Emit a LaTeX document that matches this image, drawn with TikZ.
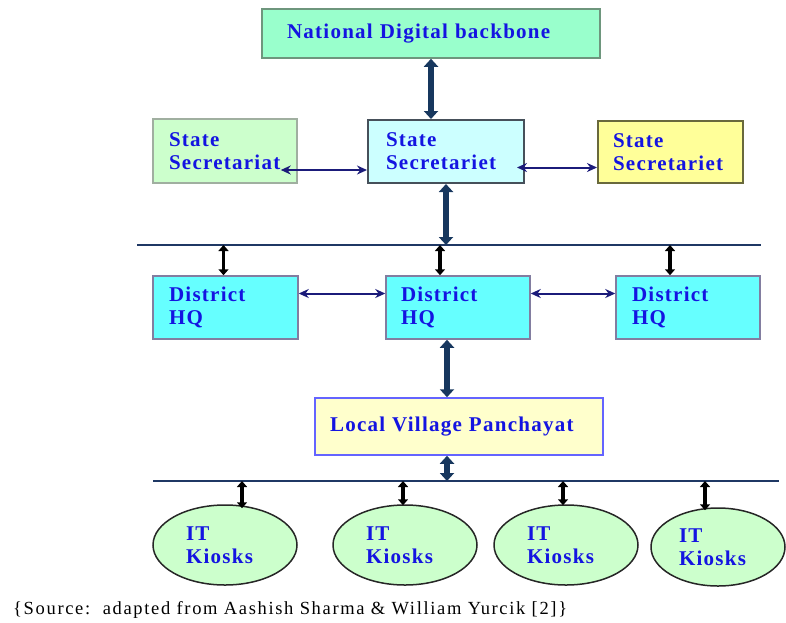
\documentclass[tikz,border=0pt]{standalone}
\usepackage{fontspec}
\setmainfont{Liberation Serif}
\newfontfamily\lbl[LetterSpace=6]{Liberation Serif}
\newfontfamily\srcfont[LetterSpace=9]{Liberation Serif}
\usetikzlibrary{arrows.meta,shapes.geometric}
\definecolor{txtblue}{RGB}{20,20,225}
\definecolor{navy}{HTML}{17375E}
\definecolor{navyarr}{HTML}{1B1B7A}
\definecolor{busline}{HTML}{1F3864}
\definecolor{natfill}{RGB}{153,255,204}
\definecolor{natdraw}{RGB}{110,150,125}
\definecolor{grnfill}{RGB}{204,255,204}
\definecolor{grndraw}{RGB}{160,175,160}
\definecolor{cyanlt}{RGB}{204,255,255}
\definecolor{cyandraw}{RGB}{70,80,90}
\definecolor{yelfill}{RGB}{255,255,153}
\definecolor{yeldraw}{RGB}{105,105,60}
\definecolor{dhfill}{RGB}{102,255,255}
\definecolor{dhdraw}{RGB}{130,125,160}
\definecolor{lvfill}{RGB}{255,255,204}
\definecolor{lvdraw}{RGB}{100,100,255}
\tikzset{
  bx/.style={draw, rectangle, inner ysep=0pt, align=left,
    font=\lbl\bfseries\fontsize{21}{23}\selectfont, text=txtblue},
  kiosk/.style={draw=black!85, line width=1.5pt, fill=grnfill, ellipse, inner sep=0pt,
    minimum width=144pt, minimum height=80pt, text width=78pt, align=left,
    font=\lbl\bfseries\fontsize{21}{23}\selectfont, text=txtblue},
  tarr/.style={draw=navy, line width=6pt, {Triangle[length=8pt,width=14pt]}-{Triangle[length=8pt,width=14pt]}},
  sarr/.style={draw=black, line width=3.5pt, {Triangle[length=6pt,width=10pt]}-{Triangle[length=6pt,width=10pt]}},
  harr/.style={draw=navyarr, line width=2pt, {Stealth[length=10pt,width=9pt]}-{Stealth[length=10pt,width=9pt]}},
  bus/.style={draw=busline, line width=2pt}
}
\begin{document}
\begin{tikzpicture}[x=1pt,y=-1pt]
\useasboundingbox (0,0) rectangle (786,622);
% top
\node[bx, fill=natfill, draw=natdraw, line width=1.5pt, minimum width=338pt, minimum height=49pt,
  inner xsep=25pt, text width=288pt] (nat) at (431,33.5) {National Digital backbone};
% state level
\node[bx, fill=grnfill, draw=grndraw, line width=1.5pt, minimum width=144pt, minimum height=64pt,
  inner xsep=16pt, text width=112pt] (ss1) at (225,151) {State\\Secretariat};
\node[bx, fill=cyanlt, draw=cyandraw, line width=2pt, minimum width=156pt, minimum height=63pt,
  inner xsep=18pt, text width=120pt] (ss2) at (446,151.5) {State\\Secretariet};
\node[bx, fill=yelfill, draw=yeldraw, line width=2pt, minimum width=145pt, minimum height=62pt,
  inner xsep=15pt, text width=115pt] (ss3) at (670.5,152) {State\\Secretariet};
% district level
\node[bx, fill=dhfill, draw=dhdraw, line width=1.5pt, minimum width=145pt, minimum height=63pt,
  inner xsep=16pt, text width=113pt] (dh1) at (225.5,307.5) {District\\HQ};
\node[bx, fill=dhfill, draw=dhdraw, line width=1.5pt, minimum width=144pt, minimum height=63pt,
  inner xsep=15pt, text width=114pt] (dh2) at (458,307.5) {District\\HQ};
\node[bx, fill=dhfill, draw=dhdraw, line width=1.5pt, minimum width=144pt, minimum height=63pt,
  inner xsep=16pt, text width=112pt] (dh3) at (688,307.5) {District\\HQ};
% local village
\node[bx, fill=lvfill, draw=lvdraw, line width=1.5pt, minimum width=288pt, minimum height=57pt,
  inner xsep=15pt, text width=258pt] (lv) at (459,426.5) {Local Village Panchayat};
% kiosks
\node[kiosk] (k1) at (225,545) {IT\\Kiosks};
\node[kiosk] (k2) at (405,545) {IT\\Kiosks};
\node[kiosk] (k3) at (566,545) {IT\\Kiosks};
\node[kiosk, minimum width=134pt, minimum height=78pt] (k4) at (718,547) {IT\\Kiosks};
% buses
\coordinate (b1l) at (137,245);
\coordinate (b1r) at (761,245);
\coordinate (b2l) at (153,481);
\coordinate (b2r) at (779,481);
\draw[bus] (b1l) -- (b1r);
\draw[bus] (b2l) -- (b2r);
% thick arrows
\draw[tarr] (nat.south) -- (nat.south |- ss2.north);
\draw[tarr] (ss2.south) -- (ss2.south |- b1l);
\draw[tarr] ([xshift=-12pt]lv.north |- dh2.south) -- ([xshift=-12pt]lv.north);
\draw[tarr] ([xshift=-12pt]lv.south) -- ([xshift=-12pt]lv.south |- b2l);
% state horizontal arrows
\draw[harr] ([xshift=-17pt,yshift=-19pt]ss1.east) -- ([yshift=-19pt]ss1.east -| ss2.west);
\draw[harr] ([xshift=-8pt,yshift=-16pt]ss2.east) -- ([yshift=-16pt]ss2.east -| ss3.west);
% district horizontal arrows
\draw[harr] ([yshift=14pt]dh1.east) -- ([yshift=14pt]dh1.east -| dh2.west);
\draw[harr] ([yshift=14pt]dh2.east) -- ([yshift=14pt]dh2.east -| dh3.west);
% small arrows bus1
\draw[sarr] ([xshift=-2pt]dh1.north |- b1l) -- ([xshift=-2pt]dh1.north);
\draw[sarr] ([xshift=-18pt]dh2.north |- b1l) -- ([xshift=-18pt]dh2.north);
\draw[sarr] ([xshift=-18pt]dh3.north |- b1l) -- ([xshift=-18pt]dh3.north);
% small arrows bus2
\draw[sarr] ([xshift=17pt]k1.north |- b2l) -- ([xshift=17pt,yshift=-4pt]k1.north);
\draw[sarr] ([xshift=-2pt]k2.north |- b2l) -- ([xshift=-2pt,yshift=-1pt]k2.north);
\draw[sarr] ([xshift=-3pt]k3.north |- b2l) -- ([xshift=-3pt,yshift=-1pt]k3.north);
\draw[sarr] ([xshift=-13pt]k4.north |- b2l) -- ([xshift=-13pt,yshift=-3pt]k4.north);
% source
\node[anchor=base west, inner sep=0pt, font=\srcfont\fontsize{18.5}{20}\selectfont] (src) at (13,614)
  {\{Source:~~adapted from Aashish Sharma \& William Yurcik [2]\}};
\end{tikzpicture}
\end{document}
